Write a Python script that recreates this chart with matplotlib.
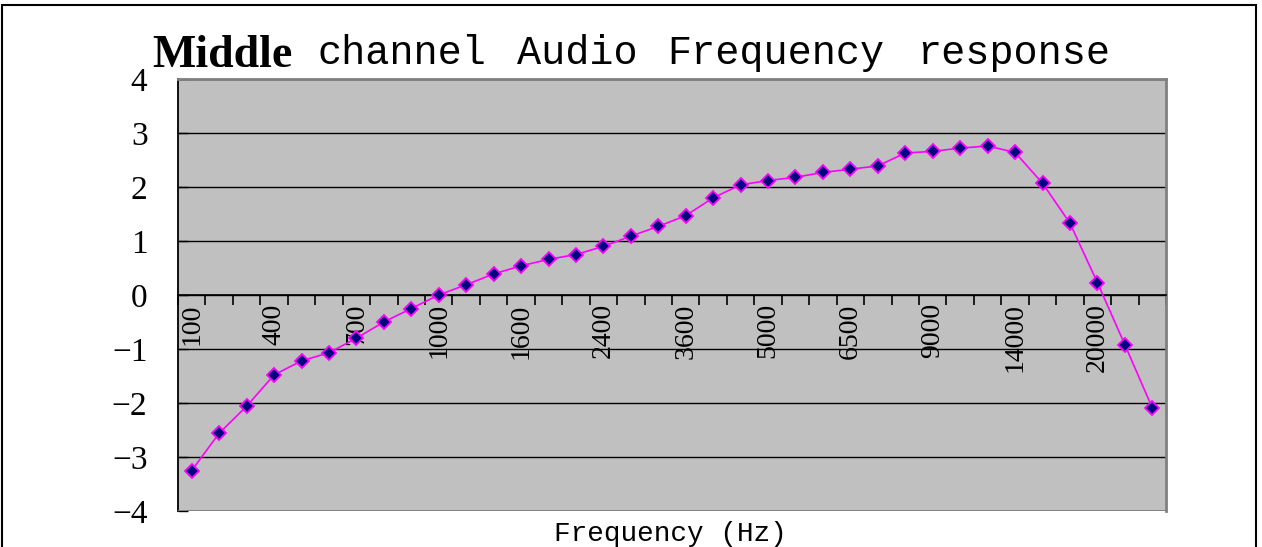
import numpy as np
import matplotlib
matplotlib.use('Agg')
import matplotlib.pyplot as plt
from matplotlib.patches import Rectangle

'''DATA'''
frequencies = [100, 200, 300, 400, 500, 600, 700, 800, 900, 1000,
               1200, 1400, 1600, 1800, 2000, 2400, 2800, 3200, 3600, 4000,
               4500, 5000, 5500, 6000, 6500, 7000, 8000, 9000, 10000, 12000,
               14000, 16000, 18000, 20000, 22000, 24000]
response_db = [-3.25, -2.56, -2.06, -1.48, -1.22, -1.07, -0.80, -0.50, -0.25, 0.00,
               0.19, 0.39, 0.54, 0.66, 0.75, 0.90, 1.09, 1.27, 1.47, 1.80,
               2.04, 2.12, 2.18, 2.27, 2.33, 2.39, 2.63, 2.66, 2.72, 2.76,
               2.64, 2.07, 1.33, 0.23, -0.92, -2.09]
label_every = 3
y_ticks = [-4, -3, -2, -1, 0, 1, 2, 3, 4]

W, H = 1262, 547

plt.rcParams['font.family'] = ['Liberation Serif', 'DejaVu Serif']

'''PLOT GENERATION'''
fig = plt.figure(figsize=(W / 100, H / 100), dpi=100)
fig.patch.set_facecolor('white')
ax = fig.add_axes([178 / W, 1 - 511 / H, (1166 - 178) / W, (511 - 79) / H])
ax.set_facecolor('#C0C0C0')

x = np.arange(len(frequencies))
ax.plot(x, response_db, color='#FF00FF', linewidth=1.2, marker='D', markersize=7,
        markerfacecolor='#000080', markeredgecolor='#FF00FF', markeredgewidth=1.3,
        zorder=5, clip_on=False)

'''PLOT SETTINGS'''
ax.set_xlim(-0.5, len(frequencies) - 0.5)
ax.set_ylim(-4, 4)
ax.set_yticks(y_ticks)
ax.set_yticklabels([str(v).replace('-', '\u2212') for v in y_ticks], fontsize=24)
ax.yaxis.grid(True, color='black', linewidth=1)
ax.set_axisbelow(True)
ax.axhline(-4, color='#808080', linewidth=2, zorder=3)

ax.spines['bottom'].set_position(('data', 0))
ax.spines['bottom'].set_color('black')
ax.spines['bottom'].set_linewidth(1.2)
ax.spines['left'].set_color('black')
ax.spines['left'].set_linewidth(1.3)
ax.spines['top'].set_color('#808080')
ax.spines['top'].set_linewidth(2)
ax.spines['right'].set_color('#808080')
ax.spines['right'].set_linewidth(2)

major = x[::label_every]
ax.set_xticks(major)
ax.set_xticklabels([str(frequencies[i]) for i in major], rotation=90,
                   fontsize=20, va='top', ha='center')
ax.set_xticks(np.arange(len(frequencies) + 1) - 0.5, minor=True)
ax.tick_params(axis='x', which='major', length=0, pad=6)
ax.tick_params(axis='x', which='minor', direction='out', length=7, width=1.2, color='black')

ax.tick_params(axis='y', which='major', direction='in', length=7, width=1, color='black',
               pad=22)

'''TITLE AND LABEL'''
fig.text(152 / W, 1 - 67 / H, 'Middle', fontweight='bold',
         fontsize=33, ha='left', va='baseline')
for word, xpos in [('channel', 318), ('Audio', 517), ('Frequency', 667), ('response', 917)]:
    fig.text(xpos / W, 1 - 64 / H, word, family='Liberation Mono', fontsize=29,
             ha='left', va='baseline')
fig.text(670 / W, 1 - 541 / H, 'Frequency (Hz)', family='Liberation Mono', fontsize=20,
         ha='center', va='baseline')

'''FIGURE BORDER'''
fig.patches.append(Rectangle((2 / W, -0.05), (1256 - 2) / W, 1.05 - 5 / H,
                             transform=fig.transFigure, fill=False,
                             edgecolor='black', linewidth=1.5))

fig.savefig('out.png', dpi=100, facecolor='white')
plt.close()
